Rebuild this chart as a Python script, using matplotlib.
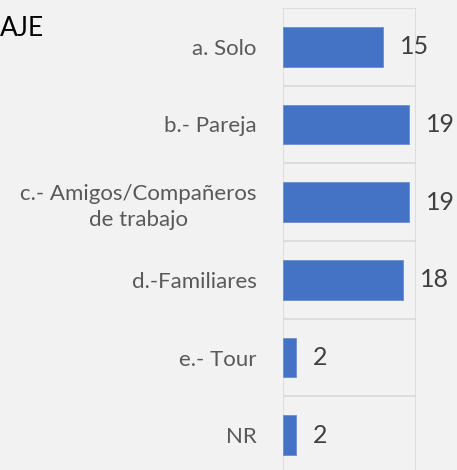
import matplotlib.pyplot as plt

categorias = ["a. Solo", "b.- Pareja", "c.- Amigos/Compañeros\nde trabajo",
              "d.-Familiares", "e.- Tour", "NR"]
valores = [15, 19, 19, 18, 2, 2]

plt.rcParams['font.family'] = ['Lato', 'DejaVu Sans']

fig = plt.figure(figsize=(4.57, 4.70), dpi=100, facecolor='#F2F2F2')
ax = fig.add_axes([283 / 457, -4 / 470, 133 / 457, 466 / 470])
ax.set_facecolor('#F2F2F2')

y = list(range(len(categorias)))
ax.barh(y, valores, height=0.51, color='#4472C4', edgecolor='#6A8FD4', linewidth=0.6, zorder=3)

ax.set_xlim(0, 20)
ax.set_ylim(len(categorias) - 0.5, -0.5)
ax.set_xticks([])
ax.set_yticks(y)
ax.set_yticklabels(categorias, fontsize=16, color='#595959', ha='right',
                   multialignment='center', linespacing=1.35)
ax.tick_params(axis='y', length=0, pad=19)

# separadores entre categorias y lineas verticales
for b in range(len(categorias) + 1):
    ax.axhline(b - 0.5, color='#D9D9D9', linewidth=1.2, zorder=1)
ax.axvline(0, color='#D9D9D9', linewidth=1.2, zorder=1)
ax.axvline(20, color='#D9D9D9', linewidth=1.2, zorder=1)
for s in ax.spines.values():
    s.set_visible(False)

for yi, v in zip(y, valores):
    ax.annotate(str(v), (v, yi), xytext=(17, 0), textcoords='offset pixels',
                va='center', ha='left', fontsize=18, color='#404040',
                annotation_clip=False)

fig.text(0, 1 - 28 / 470, "AJE", fontsize=19, color='black', va='center', ha='left')

fig.savefig('out.png', dpi=100, facecolor=fig.get_facecolor())
